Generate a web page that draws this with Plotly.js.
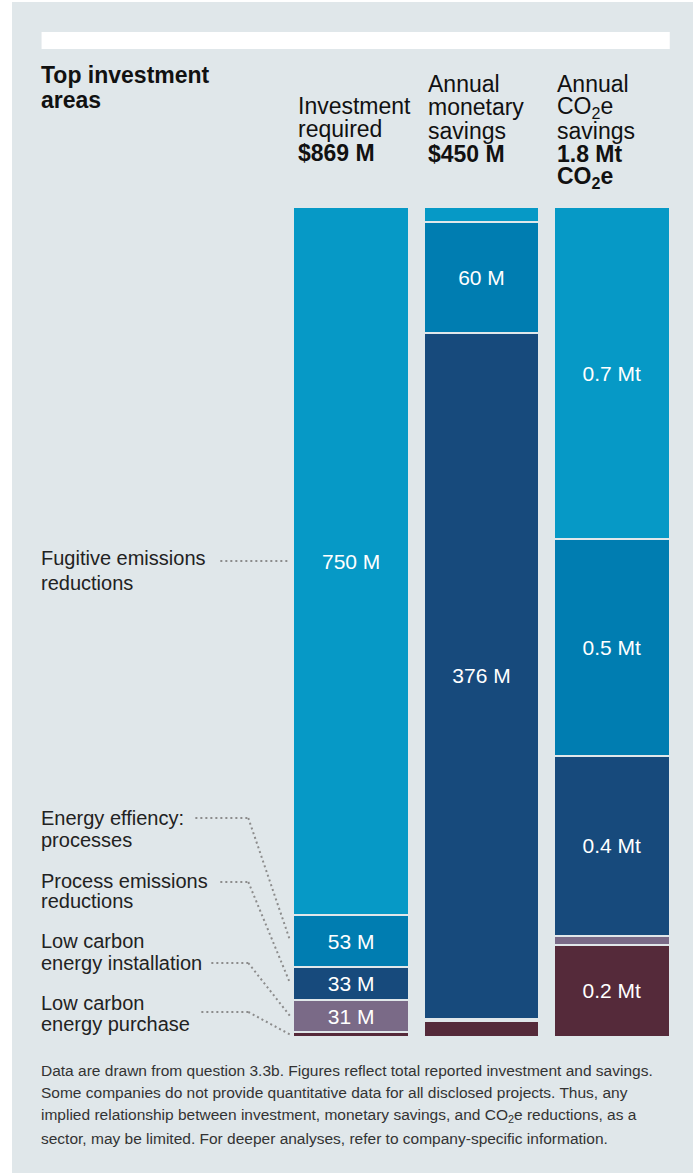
<!DOCTYPE html>
<html>
<head>
<meta charset="utf-8">
<script src="https://cdn.plot.ly/plotly-3.0.1.min.js"></script>
<style>
  html, body { margin: 0; padding: 0; background: #ffffff; }
  #chart { position: absolute; left: 12px; top: 2px; width: 681px; height: 1171px; }
</style>
</head>
<body>
<div id="chart"></div>
<script>
// ---- data ----
const columns = ["Investment required", "Annual monetary savings", "Annual CO2e savings"];
const areas = ["Low carbon energy purchase", "Low carbon energy installation", "Process emissions reductions", "Energy effiency: processes", "Fugitive emissions reductions"];
const purchaseValues     = [5, 8.5, 0.20];
const installationValues = [34, 1.5, 0.02];
const processValues      = [35, 376, 0.39];
const efficiencyValues   = [55, 61, 0.47];
const fugitiveValues     = [750, 8, 0.72];
const purchaseLabels     = [null, null, "0.2 Mt"];
const installationLabels = ["31 M", null, null];
const processLabels      = ["33 M", "376 M", "0.4 Mt"];
const efficiencyLabels   = ["53 M", "60 M", "0.5 Mt"];
const fugitiveLabels     = ["750 M", null, "0.7 Mt"];
const areaColors = ["#552a3a", "#7a6a87", "#174a7c", "#007db1", "#0699c6"];
const headerLines = [
  ["Investment", "required", "<b>$869 M</b>"],
  ["Annual", "monetary", "savings", "<b>$450 M</b>"],
  ["Annual", "CO<sub>2</sub>e", "savings", "<b>1.8 Mt</b>", "<b>CO<sub>2</sub>e</b>"]
];
const areaLabelLines = [
  ["Low carbon", "energy purchase"],
  ["Low carbon", "energy installation"],
  ["Process emissions", "reductions"],
  ["Energy effiency:", "processes"],
  ["Fugitive emissions", "reductions"]
];
const footnoteLines = [
  "Data are drawn from question 3.3b. Figures reflect total reported investment and savings.",
  "Some companies do not provide quantitative data for all disclosed projects. Thus, any",
  "implied relationship between investment, monetary savings, and CO<sub>2</sub>e reductions, as a",
  "sector, may be limited. For deeper analyses, refer to company-specific information."
];

// ---- geometry helpers (page pixel -> paper) ----
const W = 681, H = 1171, OX = 12, OY = 2;
const ML = 273.75, MR = 15.75, MT = 205, MB = 136;
const PW = W - ML - MR, PH = H - MT - MB;
const px = x => (x - OX - ML) / PW;
const py = y => 1 - (y - OY - MT) / PH;

const BG = "#e0e7ea";
const FONT = "Liberation Sans, Arial, sans-serif";

const valueSets = [purchaseValues, installationValues, processValues, efficiencyValues, fugitiveValues];
const labelSets = [purchaseLabels, installationLabels, processLabels, efficiencyLabels, fugitiveLabels];

const traces = valueSets.map((vals, i) => ({
  type: "bar",
  name: areas[i],
  x: columns,
  y: vals,
  text: labelSets[i],
  textposition: "inside",
  insidetextanchor: "middle",
  textangle: 0,
  constraintext: "none",
  textfont: { family: FONT, size: 21, color: "#ffffff" },
  marker: { color: areaColors[i], line: { color: BG, width: 2 } },
  hoverinfo: "skip"
}));

const annotations = [];
const shapes = [];
const XS = -3;

// white band at top
shapes.push({ type: "rect", xref: "paper", yref: "paper", x0: px(41), x1: px(670), y0: py(49), y1: py(32), fillcolor: "#ffffff", line: { width: 0 }, layer: "below" });

// title
[["<b>Top investment</b>", 75], ["<b>areas</b>", 100]].forEach(([t, y]) => {
  annotations.push({ text: t, xref: "paper", yref: "paper", x: px(41), y: py(y), xshift: XS, xanchor: "left", yanchor: "middle", showarrow: false, font: { family: FONT, size: 23, color: "#111111" } });
});

// column headers
const headerX = [299, 429, 558];
const headerY0 = [106, 84, 84];
headerLines.forEach((lines, c) => {
  lines.forEach((t, k) => {
    annotations.push({ text: t, xref: "paper", yref: "paper", x: px(headerX[c]), y: py(headerY0[c] + k * 23.3), xshift: XS, xanchor: "left", yanchor: "middle", showarrow: false, font: { family: FONT, size: 23, color: "#111111" } });
  });
});

// area labels on the left
const labelTopY = [1003, 941, 881, 818, 558];
const labelGap = [21, 22, 20, 22, 25];
labelTopY.forEach((y0, i) => {
  areaLabelLines[i].forEach((t, k) => {
    annotations.push({ text: t, xref: "paper", yref: "paper", x: px(41), y: py(y0 + k * labelGap[i]), xshift: XS, xanchor: "left", yanchor: "middle", showarrow: false, font: { family: FONT, size: 20, color: "#222222" } });
  });
});

// connectors
const connStartX = [201, 211, 220, 195, 220];
const connY = [1012, 963, 882, 818, 561];
const elbowX = [248, 248, 248, 248, 290];
const total0 = valueSets.reduce((s, v) => s + v[0], 0);
let cum = 0;
const DOT = { color: "#8c8c8c", width: 2, dash: "2px,3px" };
valueSets.forEach((vals, i) => {
  const mid = (cum + vals[0] / 2) / total0;
  cum += vals[0];
  shapes.push({ type: "line", xref: "paper", yref: "paper", x0: px(connStartX[i]), x1: px(elbowX[i]), y0: py(connY[i]), y1: py(connY[i]), line: DOT });
  if (elbowX[i] < 290) {
    shapes.push({ type: "line", xref: "paper", yref: "paper", x0: px(elbowX[i]), x1: px(290), y0: py(connY[i]), y1: mid, line: DOT });
  }
});

// footnote
footnoteLines.forEach((t, k) => {
  annotations.push({ text: t, xref: "paper", yref: "paper", x: px(41), y: py(1070 + k * 22.7), xshift: XS, xanchor: "left", yanchor: "middle", showarrow: false, font: { family: FONT, size: 15.5, color: "#333333" } });
});

const layout = {
  width: W, height: H,
  margin: { l: ML, r: MR, t: MT, b: MB, pad: 0 },
  paper_bgcolor: BG, plot_bgcolor: BG,
  barmode: "stack", barnorm: "fraction", bargap: 0.1111,
  showlegend: false, hovermode: false,
  xaxis: { visible: false, range: [-0.5, 2.5], fixedrange: true },
  yaxis: { visible: false, range: [0, 1], fixedrange: true },
  shapes: shapes,
  annotations: annotations
};

Plotly.newPlot("chart", traces, layout, { staticPlot: true, displayModeBar: false });
</script>
</body>
</html>
